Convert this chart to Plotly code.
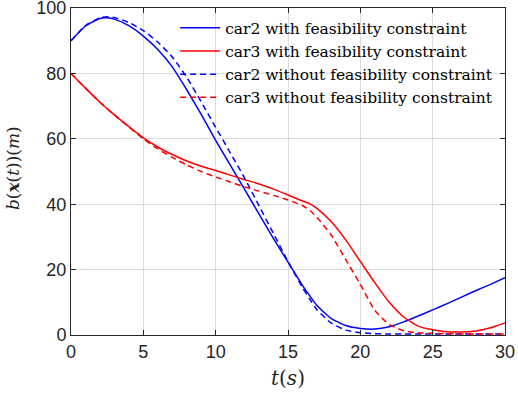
import plotly.graph_objects as go

# time samples (s)
t = [0, 1, 2, 2.5, 3, 4, 5, 6, 7, 8, 9, 10, 11, 12, 13, 14, 15, 16, 16.5, 17, 18, 19, 20,
     21, 22, 23, 24, 25, 26, 27, 28, 29, 30]

car2_with = [90, 94.5, 96.8, 97, 96.6, 94.6, 91.4, 87.3, 82, 75, 67.5, 59.5, 52, 44.5, 37,
             29.5, 22.3, 15.2, 12, 9, 5, 2.9, 2.0, 1.8, 2.5, 4, 5.8, 7.7, 9.6, 11.6, 13.6,
             15.5, 17.5]
car3_with = [80, 75.5, 71.2, 69.2, 67.3, 63.7, 60.3, 57.5, 55.2, 53.2, 51.6, 50.3, 48.9,
             47.5, 46.2, 44.6, 42.8, 41, 40.2, 38.7, 34.6, 29, 22.5, 16, 10, 5.5, 2.7, 1.6,
             1.0, 0.9, 1.2, 2.2, 3.7]
car2_without = [90, 94.6, 97, 97.3, 97.1, 95.6, 93.1, 89.6, 85, 78.8, 71.3, 63.5, 55.8,
                48, 39.5, 31, 22.5, 14.5, 11, 7.7, 3.6, 1.5, 0.7, 0.4, 0.3, 0.3, 0.3, 0.3,
                0.3, 0.3, 0.3, 0.3, 0.3]
car3_without = [80, 75.5, 71.2, 69.2, 67.3, 63.6, 60, 56.9, 54.3, 52, 50, 48.3, 46.8,
                45.3, 44, 42.7, 41.3, 39.6, 38.2, 36, 30.5, 23, 15.5, 7.5, 3.2, 1.3, 0.7,
                0.5, 0.4, 0.3, 0.3, 0.3, 0.3]

names = ["car2 with feasibility constraint", "car3 with feasibility constraint",
         "car2 without feasibility constraint", "car3 without feasibility constraint"]

serif = "DejaVu Serif"

fig = go.Figure()
fig.add_trace(go.Scatter(x=t, y=car2_with, mode="lines", name=names[0],
                         line=dict(color="#0000ff", width=1.5, shape="spline", smoothing=0.5)))
fig.add_trace(go.Scatter(x=t, y=car3_with, mode="lines", name=names[1],
                         line=dict(color="#ff0000", width=1.5, shape="spline", smoothing=0.5)))
fig.add_trace(go.Scatter(x=t, y=car2_without, mode="lines", name=names[2],
                         line=dict(color="#0000ff", width=1.5, dash="6px,4px",
                                   shape="spline", smoothing=0.5)))
fig.add_trace(go.Scatter(x=t, y=car3_without, mode="lines", name=names[3],
                         line=dict(color="#ff0000", width=1.5, dash="6px,4px",
                                   shape="spline", smoothing=0.5)))

axis_style = dict(showline=True, linecolor="#262626", linewidth=1, mirror="ticks",
                  ticks="inside", ticklen=5, tickcolor="#262626", automargin=False,
                  ticklabeloverflow="allow",
                  showgrid=True, gridcolor="#dcdcdc", gridwidth=1, zeroline=False,
                  tickfont=dict(family="Liberation Sans", size=18, color="#262626"))

fig.update_xaxes(range=[0, 30], dtick=5, **axis_style)
fig.update_yaxes(range=[0, 100], dtick=20, **axis_style)

# axis titles as annotations so they sit where the reference puts them
fig.add_annotation(text="<i>t</i>(<i>s</i>)", x=0.5, y=-0.131, xref="paper", yref="paper",
                   xanchor="center", yanchor="middle",
                   showarrow=False, font=dict(family=serif, size=20, color="#262626"))
fig.add_annotation(text="<i>b</i>(<b><i>x</i></b>(<i>t</i>))(<i>m</i>)", textangle=-90,
                   x=-0.134, y=0.51, xref="paper", yref="paper",
                   xanchor="center", yanchor="middle",
                   showarrow=False, font=dict(family=serif, size=17, color="#262626"))

fig.update_layout(
    width=518, height=395,
    margin=dict(l=71, r=13, t=8, b=60),
    plot_bgcolor="white", paper_bgcolor="white",
    legend=dict(x=0.24, y=0.99, xanchor="left", yanchor="top",
                bgcolor="rgba(0,0,0,0)", borderwidth=0, itemwidth=40,
                tracegroupgap=0,
                font=dict(family=serif, size=15.5, color="black")),
)

# drop the default 8px body margin so the figure fills the window
fig.write_html("out.html", config={"displayModeBar": False},
               post_script="document.body.style.margin = '0';")
